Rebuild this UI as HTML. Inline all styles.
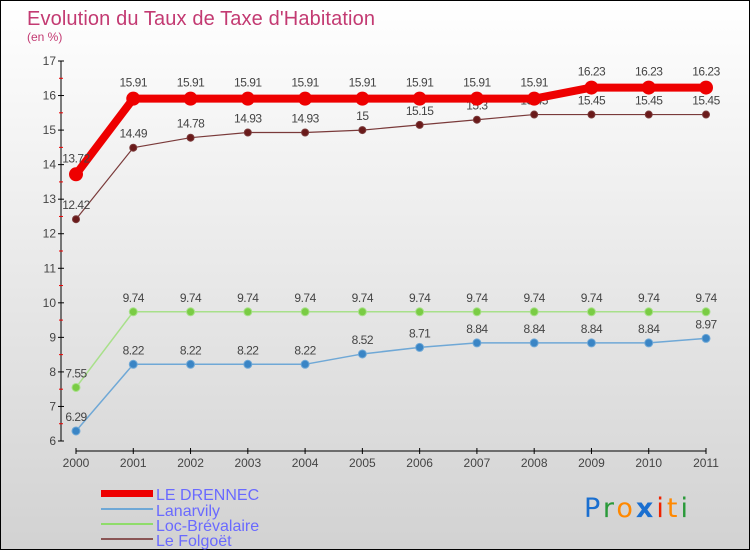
<!DOCTYPE html>
<html><head><meta charset="utf-8"><style>
html,body{margin:0;padding:0}
body{width:750px;height:550px;overflow:hidden;font-family:"Liberation Sans",sans-serif}
#wrap{position:relative;width:748px;height:548px;border:1px solid #000;background:linear-gradient(#ffffff,#d2d2d2)}
svg{position:absolute;left:0;top:0}
</style></head><body>
<div id="wrap">
<svg id="chart" width="750" height="550">
<text x="26" y="24" font-size="20" fill="#c33a72" textLength="348">Evolution du Taux de Taxe d'Habitation</text>
<text x="26" y="40" font-size="12" fill="#c33a72">(en %)</text>
<g id="axes"></g><g id="series"></g>
<g>
<rect x="100" y="489" width="52" height="7" fill="#ee0000"/>
<text x="155" y="499" font-size="16" fill="#6a6aff">LE DRENNEC</text>
<rect x="100" y="507" width="52" height="2" fill="#6fa8d6"/>
<text x="155" y="515" font-size="16" fill="#6a6aff">Lanarvily</text>
<rect x="100" y="522" width="52" height="2" fill="#8fdc6a"/>
<text x="155" y="530" font-size="16" fill="#6a6aff">Loc-Brévalaire</text>
<rect x="100" y="537" width="52" height="2" fill="#8a5555"/>
<text x="155" y="545" font-size="16" fill="#6a6aff">Le Folgoët</text>
</g>
<text x="583" y="516" font-size="27" font-family="'DejaVu Sans',sans-serif" textLength="104"><tspan fill="#1a6fd0">P</tspan><tspan fill="#2a9a3a">r</tspan><tspan fill="#ff8800">o</tspan><tspan fill="#1a6fd0" font-weight="bold">x</tspan><tspan fill="#ee2200">i</tspan><tspan fill="#ff8800">t</tspan><tspan fill="#2a9a3a">i</tspan></text>
</svg></div>
<script>
const years=["2000","2001","2002","2003","2004","2005","2006","2007","2008","2009","2010","2011"];
const yTicks=[6,7,8,9,10,11,12,13,14,15,16,17];
const drennec=[13.72,15.91,15.91,15.91,15.91,15.91,15.91,15.91,15.91,16.23,16.23,16.23];
const lanarvily=[6.29,8.22,8.22,8.22,8.22,8.52,8.71,8.84,8.84,8.84,8.84,8.97];
const locBrevalaire=[7.55,9.74,9.74,9.74,9.74,9.74,9.74,9.74,9.74,9.74,9.74,9.74];
const folgoet=[12.42,14.49,14.78,14.93,14.93,15,15.15,15.3,15.45,15.45,15.45,15.45];
const NS="http://www.w3.org/2000/svg";
const xs=i=>75+i*(630/(years.length-1));
const ys=v=>440-(v-6)*(380/11);
function mk(tag,attrs,parent){const e=document.createElementNS(NS,tag);for(const k in attrs)e.setAttribute(k,attrs[k]);parent.appendChild(e);return e;}
const ax=document.getElementById('axes');
let l=mk('line',{x1:60,y1:ys(17),x2:60,y2:ys(6),stroke:'#000','stroke-width':1},ax);


l=mk('line',{x1:75,y1:450,x2:705,y2:450,stroke:'#000','stroke-width':1},ax);


yTicks.forEach((t,i)=>{
 mk('line',{x1:57,y1:ys(t),x2:63,y2:ys(t),stroke:'#000'},ax);
 if(i<yTicks.length-1) mk('line',{x1:58,y1:ys(t+0.5),x2:62,y2:ys(t+0.5),stroke:'#e00'},ax);
 const tx=mk('text',{x:55,y:ys(t)+4,'font-size':12,fill:'#444','text-anchor':'end'},ax);tx.textContent=t;
 
 
});
years.forEach((y,i)=>{
 mk('line',{x1:xs(i),y1:447,x2:xs(i),y2:453,stroke:'#000'},ax);
 const tx=mk('text',{x:xs(i),y:466,'font-size':12,fill:'#444','text-anchor':'middle'},ax);tx.textContent=y;
 
 
});
const sg=document.getElementById('series');
function series(vals,color,w,r,fill,name,lab){
 const g=mk('g',{},sg);
 
 
 mk('polyline',{points:vals.map((v,i)=>xs(i)+','+ys(v)).join(' '),fill:'none',stroke:color,'stroke-width':w,'stroke-linejoin':'round'},g);
 vals.forEach((v,i)=>{
  const c=mk('circle',{cx:xs(i),cy:ys(v),r:r,fill:fill,stroke:color==fill?'none':color,'stroke-width':1},g);
  
  
  const t=mk('text',{x:xs(i),y:ys(v)-lab,'font-size':12,fill:'#444','text-anchor':'middle','letter-spacing':'-0.5'},g);
  t.textContent=String(v);
  
  
 });
}
series(lanarvily,'#6fa8d6',1.5,4,'#3a85c5','lanarvily',10);
series(locBrevalaire,'#a8e08a',1.5,4,'#7acc44','loc-brevalaire',10);
series(folgoet,'#7a3a3a',1.2,3.5,'#6a1a1a','le-folgoet',10);
series(drennec,'#ee0000',8,7,'#ee0000','le-drennec',12);
</script>
</body></html>
